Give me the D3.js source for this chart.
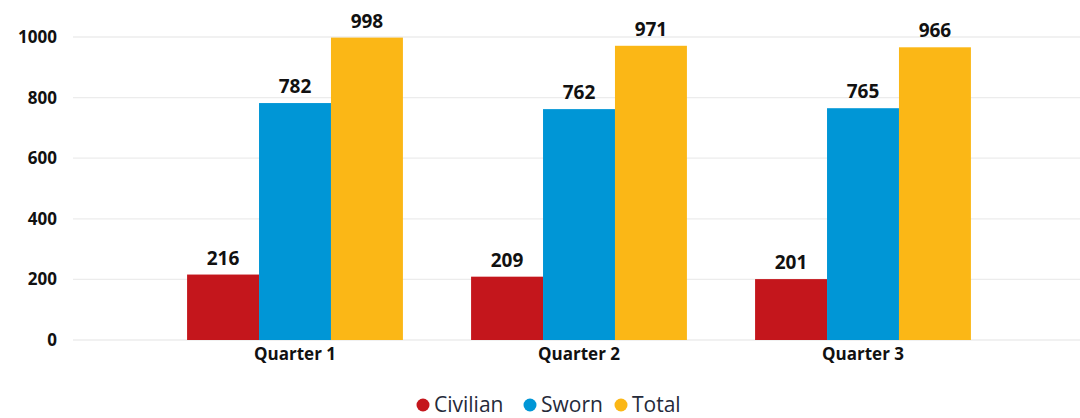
<!DOCTYPE html>
<html>
<head>
<meta charset="utf-8">
<script src="https://cdn.jsdelivr.net/npm/d3@7"></script>
<style>
  body { margin: 0; background: #fff; }
  svg text { font-family: "Open Sans", "DejaVu Sans", sans-serif; }
</style>
</head>
<body>
<script>
// chart data
const quarters = ["Quarter 1", "Quarter 2", "Quarter 3"];
const seriesNames = ["Civilian", "Sworn", "Total"];
const civilian = [216, 209, 201];
const sworn = [782, 762, 765];
const total = [998, 971, 966];
const yTicks = [0, 200, 400, 600, 800, 1000];

const colors = ["#C4161C", "#0096D6", "#FBB716"];
const seriesValues = [civilian, sworn, total];

const width = 1080, height = 418;
const svg = d3.select("body").append("svg")
    .attr("width", width)
    .attr("height", height);

// scales
const x0 = d3.scaleBand()
    .domain(quarters)
    .range([153, 1005])
    .paddingInner(0.24)
    .paddingOuter(0.12);

const x1 = d3.scaleBand()
    .domain(seriesNames)
    .range([0, x0.bandwidth()]);

const y = d3.scaleLinear()
    .domain([0, 1000])
    .range([340, 37]);

// gridlines
svg.append("g")
    .selectAll("line")
    .data(yTicks)
    .enter()
    .append("line")
    .attr("x1", 73)
    .attr("x2", 1080)
    .attr("y1", d => y(d))
    .attr("y2", d => y(d))
    .attr("stroke", "#ececec")
    .attr("stroke-width", 1.3);

// y axis labels
const yAxis = svg.append("g")
    .attr("transform", "translate(57,0)")
    .call(d3.axisLeft(y).tickValues(yTicks).tickFormat(d3.format("d")).tickSize(0).tickPadding(0));
yAxis.select(".domain").remove();
yAxis.selectAll("text")
    .style("font-family", "'Open Sans', sans-serif")
    .style("font-size", "17px")
    .style("font-weight", "bold")
    .attr("fill", "#111");

// x axis labels
const xAxis = svg.append("g")
    .attr("transform", "translate(0,340)")
    .call(d3.axisBottom(x0).tickSize(0).tickPadding(8));
xAxis.select(".domain").remove();
xAxis.selectAll("text")
    .style("font-family", "'Open Sans', sans-serif")
    .style("font-size", "17px")
    .style("font-weight", "bold")
    .attr("fill", "#111");

// flatten into rows
const rows = [];
quarters.forEach((q, i) => {
    seriesNames.forEach((s, j) => {
        rows.push({ quarter: q, series: s, value: seriesValues[j][i], color: colors[j] });
    });
});

// bars
svg.append("g")
    .selectAll("rect")
    .data(rows)
    .enter()
    .append("rect")
    .attr("x", d => x0(d.quarter) + x1(d.series))
    .attr("y", d => y(d.value))
    .attr("width", x1.bandwidth())
    .attr("height", d => y(0) - y(d.value))
    .attr("fill", d => d.color);

// value labels
svg.append("g")
    .selectAll("text")
    .data(rows)
    .enter()
    .append("text")
    .attr("x", d => x0(d.quarter) + x1(d.series) + x1.bandwidth() / 2)
    .attr("y", d => y(d.value) - 10)
    .attr("text-anchor", "middle")
    .style("font-size", "19px")
    .style("font-weight", "bold")
    .attr("fill", "#111")
    .text(d => d.value);

// legend
const legend = svg.append("g").attr("transform", "translate(423,405)");
const legendX = [0, 107, 198];
seriesNames.forEach((s, i) => {
    const g = legend.append("g").attr("transform", `translate(${legendX[i]},0)`);
    g.append("circle")
        .attr("r", 6.5)
        .attr("fill", colors[i]);
    g.append("text")
        .attr("x", 11)
        .attr("dy", "0.35em")
        .style("font-size", "21px")
        .attr("fill", "#252a3a")
        .text(s);
});
</script>
</body>
</html>
